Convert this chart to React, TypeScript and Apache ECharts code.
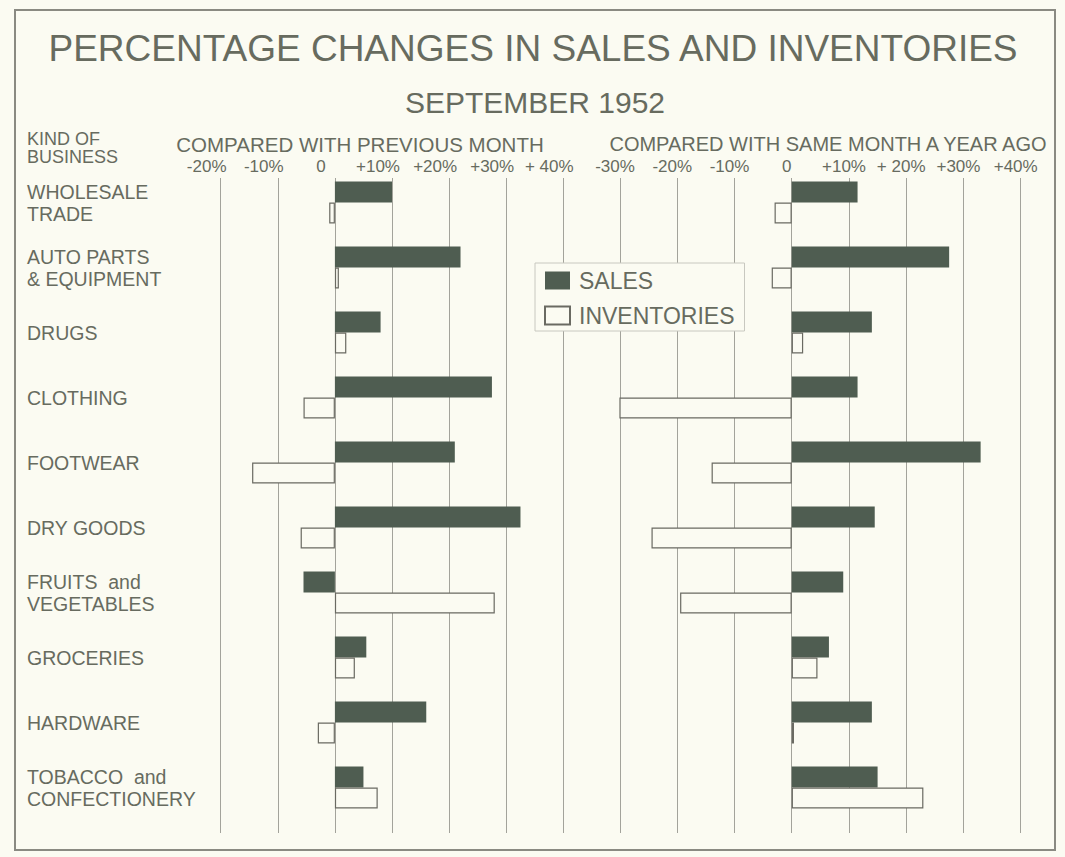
import React, { useEffect, useRef } from 'react';
import * as echarts from 'echarts';

const categories = [
  'WHOLESALE\nTRADE',
  'AUTO PARTS\n& EQUIPMENT',
  'DRUGS',
  'CLOTHING',
  'FOOTWEAR',
  'DRY GOODS',
  'FRUITS  and\nVEGETABLES',
  'GROCERIES',
  'HARDWARE',
  'TOBACCO  and\nCONFECTIONERY',
];

const salesPrevMonth = [10, 22, 8, 27.5, 21, 32.5, -5.5, 5.5, 16, 5];
const inventoriesPrevMonth = [-1, 0.7, 2, -5.5, -14.5, -6, 28, 3.5, -3, 7.5];
const salesYearAgo = [11.5, 27.5, 14, 11.5, 33, 14.5, 9, 6.5, 14, 15];
const inventoriesYearAgo = [-3, -3.5, 2, -31, -14, -24.5, -19.5, 4.5, 0.4, 23];

const leftTickLabels = ['-20%', '-10%', '0', '+10%', '+20%', '+30%', '+ 40%'];
const rightTickLabels = ['-30%', '-20%', '-10%', '0', '+10%', '+ 20%', '+30%', '+40%'];

const INK = '#676b5f';
const BG = '#fbfbf2';
const BAR = '#4f5d51';
const FONT = '"Liberation Sans", Arial, sans-serif';

export default function App() {
  const ref = useRef<HTMLDivElement>(null);
  useEffect(() => {
    document.body.style.margin = '0';
    document.body.style.background = BG;
    const chart = echarts.init(ref.current!, null, { renderer: 'svg' });
    const tickAxis = (gi: number, min: number, labels: string[], shift: number) => ({
      type: 'value',
      gridIndex: gi,
      min,
      max: 40,
      interval: 10,
      position: 'top',
      axisLine: { show: false },
      axisTick: { show: false },
      splitLine: { show: true, lineStyle: { color: '#a3a39b', width: 1 } },
      axisLabel: {
        margin: 3,
        fontSize: 17,
        fontFamily: FONT,
        color: INK,
        padding: [0, shift, 0, 0],
        formatter: (v: number) => labels[Math.round((v - min) / 10)] ?? '',
      },
    });
    const hiddenX = (gi: number, min: number) => ({
      type: 'value', gridIndex: gi, min, max: 40, interval: 10, show: false,
      splitLine: { show: false },
    });
    const salesStyle = { color: BAR };
    const invStyle = { color: BG, borderColor: '#6a6a62', borderWidth: 1.2 };
    chart.setOption({
      animation: false,
      backgroundColor: BG,
      textStyle: { fontFamily: FONT },
      grid: [
        { left: 220.7, width: 342.6, top: 178, bottom: 24 },
        { left: 620, width: 400.7, top: 178, bottom: 24 },
        { left: 220.7, width: 342.6, top: 170, height: 650 },
        { left: 620, width: 400.7, top: 170, height: 650 },
      ],
      xAxis: [
        tickAxis(0, -20, leftTickLabels, 28),
        tickAxis(1, -30, rightTickLabels, 10),
        hiddenX(2, -20),
        hiddenX(3, -30),
      ],
      yAxis: [
        { type: 'value', gridIndex: 0, min: 0, max: 1, show: false, splitLine: { show: false } },
        { type: 'value', gridIndex: 1, min: 0, max: 1, show: false, splitLine: { show: false } },
        {
          type: 'category',
          gridIndex: 2,
          data: categories,
          inverse: true,
          axisLine: { show: false },
          axisTick: { show: false },
          splitLine: { show: false },
          axisLabel: {
            align: 'left',
            margin: 193.7,
            fontSize: 19.5,
            lineHeight: 22,
            color: INK,
            fontFamily: FONT,
            padding: [8, 0, 0, 0],
          },
        },
        {
          type: 'category',
          gridIndex: 3,
          data: categories,
          inverse: true,
          show: false,
        },
      ],
      legend: {
        data: ['SALES', 'INVENTORIES'],
        orient: 'vertical',
        left: 535,
        top: 263,
        itemWidth: 25,
        itemHeight: 18,
        itemGap: 12,
        icon: 'rect',
        backgroundColor: BG,
        borderColor: '#c8c8c0',
        borderWidth: 1,
        padding: [6, 10, 4, 9],
        textStyle: { fontSize: 23, color: INK, fontFamily: FONT, padding: [0, 0, 0, 4] },
      },
      series: [
        { name: 'SALES', type: 'bar', xAxisIndex: 2, yAxisIndex: 2, data: salesPrevMonth, barWidth: 21, barGap: '0%', itemStyle: salesStyle },
        { name: 'INVENTORIES', type: 'bar', xAxisIndex: 2, yAxisIndex: 2, data: inventoriesPrevMonth, barWidth: 21, barGap: '0%', itemStyle: invStyle },
        { name: 'SALES', type: 'bar', xAxisIndex: 3, yAxisIndex: 3, data: salesYearAgo, barWidth: 21, barGap: '0%', itemStyle: salesStyle },
        { name: 'INVENTORIES', type: 'bar', xAxisIndex: 3, yAxisIndex: 3, data: inventoriesYearAgo, barWidth: 21, barGap: '0%', itemStyle: invStyle },
      ],
      graphic: [
        {
          type: 'rect', z: -1, silent: true,
          shape: { x: 15, y: 10, width: 1040, height: 840 },
          style: { fill: 'none', stroke: '#8a8a82', lineWidth: 2 },
        },
        {
          type: 'text', x: 533, y: 48,
          style: { text: 'PERCENTAGE CHANGES IN SALES AND INVENTORIES', fill: INK, font: `37px ${FONT}`, textAlign: 'center', textVerticalAlign: 'middle' },
        },
        {
          type: 'text', x: 535, y: 102,
          style: { text: 'SEPTEMBER 1952', fill: INK, font: `30px ${FONT}`, textAlign: 'center', textVerticalAlign: 'middle' },
        },
        {
          type: 'text', x: 27, y: 148,
          style: { text: 'KIND OF\nBUSINESS', fill: INK, font: `18px ${FONT}`, lineHeight: 18, textAlign: 'left', textVerticalAlign: 'middle' },
        },
        {
          type: 'text', x: 360, y: 144,
          style: { text: 'COMPARED WITH PREVIOUS MONTH', fill: INK, font: `20.5px ${FONT}`, textAlign: 'center', textVerticalAlign: 'middle' },
        },
        {
          type: 'text', x: 828, y: 144,
          style: { text: 'COMPARED WITH SAME MONTH A YEAR AGO', fill: INK, font: `20px ${FONT}`, textAlign: 'center', textVerticalAlign: 'middle' },
        },
      ],
    });
    return () => chart.dispose();
  }, []);
  return <div ref={ref} style={{ width: 1065, height: 857 }} />;
}
